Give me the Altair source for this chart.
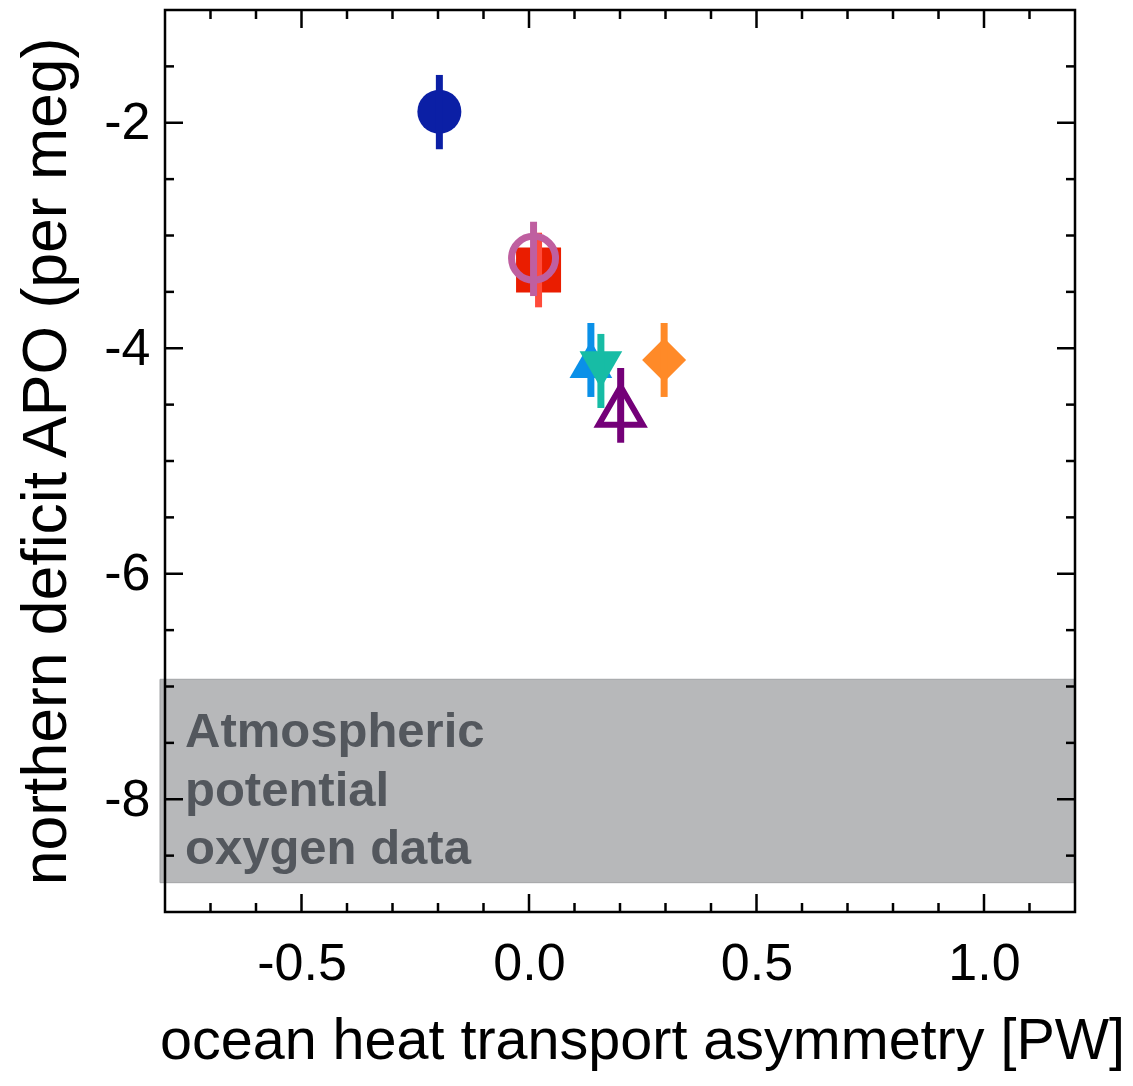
import altair as alt
import pandas as pd

# ---------------- data ----------------
series_names = ["model 1", "model 2", "model 3", "model 4", "model 5", "model 6", "model 7"]
x_vals = [-0.197, 0.021, 0.010, 0.136, 0.158, 0.2015, 0.297]
y_vals = [-1.902, -3.306, -3.202, -4.100, -4.190, -4.510, -4.104]
y_low = [-2.235, -3.637, -3.537, -4.432, -4.530, -4.838, -4.432]
y_high = [-1.576, -2.975, -2.878, -3.776, -3.873, -4.175, -3.776]

band_low = [-8.74]
band_high = [-6.936]
band_text = ["Atmospheric\npotential\noxygen data"]

x_major = [-0.5, 0.0, 0.5, 1.0]
x_minor = [-0.7, -0.6, -0.4, -0.3, -0.2, -0.1, 0.1, 0.2, 0.3, 0.4, 0.6, 0.7, 0.8, 0.9, 1.1]
y_major = [-2, -4, -6, -8]
y_minor = [-1.5, -2.5, -3, -3.5, -4.5, -5, -5.5, -6.5, -7, -7.5, -8.5]

x_title = "ocean heat transport asymmetry [PW]"
y_title = "northern deficit APO (per meg)"

# ---------------- styles ----------------
shapes = ["circle", "square", "circle", "triangle-up", "triangle-down", "triangle-up", "diamond"]
filled = [True, True, False, True, True, False, True]
colors = ["#0b1fa5", "#ea1d00", "#bf5fa0", "#0a90e8", "#17bca5", "#740078", "#ff8a28"]
bar_colors = ["#0b1fa5", "#ff4b3a", "#bf5fa0", "#0a90e8", "#17bca5", "#740078", "#ff8a28"]
sizes = [1936, 2025, 1936, 1823, 1823, 1936, 1936]
stroke_widths = [0, 0, 7, 0, 0, 6, 0]

W, H = 910, 902
FONT = "Liberation Sans"
MAJ, MIN = 18, 9

df = pd.DataFrame({"name": series_names, "x": x_vals, "y": y_vals,
                   "lo": y_low, "hi": y_high})

xs = alt.Scale(domain=[-0.8, 1.2], nice=False, zero=False)
ys = alt.Scale(domain=[-9, -1], nice=False, zero=False)

lab_expr = "(datum.value < 0 ? '-' : '') + format(abs(datum.value), '{}')"

# band
band = alt.Chart(pd.DataFrame({"lo": band_low, "hi": band_high})).mark_rect(
    color="#b7b8ba", stroke="#a3a4a6", strokeWidth=1
).encode(
    x=alt.value(-5), x2=alt.value(W),
    y=alt.Y("hi:Q", scale=ys, axis=alt.Axis(
        title=y_title, values=y_major, ticks=False, domain=False, grid=False,
        labelExpr=lab_expr.format("d"), labelFontSize=52, labelFont=FONT,
        labelColor="black", labelPadding=15, titleFont=FONT, titleFontSize=62.5,
        titleFontWeight="normal", titleColor="black", titlePadding=25)),
    y2="lo:Q",
)

text = alt.Chart(pd.DataFrame({"t": band_text})).mark_text(
    align="left", baseline="alphabetic", font=FONT, fontSize=49, fontWeight="bold",
    color="#53575d", lineBreak="\n", lineHeight=58.5
).encode(x=alt.value(20), y=alt.value(737), text="t:N")

layers = [band, text]

for i in range(len(series_names)):
    d = df[df["name"] == series_names[i]]
    base = alt.Chart(d)
    kw = dict(shape=shapes[i], size=sizes[i], filled=filled[i], opacity=1)
    if filled[i]:
        kw.update(fill=colors[i], strokeWidth=0)
    else:
        kw.update(stroke=colors[i], strokeWidth=stroke_widths[i], fill=None, fillOpacity=0)
    pt = base.mark_point(**kw).encode(
        x=alt.X("x:Q", scale=xs, axis=alt.Axis(
            title=x_title, values=x_major, ticks=False, domain=False, grid=False,
            labelExpr=lab_expr.format(".1f"), labelFontSize=52, labelFont=FONT,
            labelColor="black", labelPadding=26, titleFont=FONT, titleFontSize=57.5,
            titleFontWeight="normal", titleColor="black", titlePadding=24,
            titleX=W / 2 + 22, titleAlign="center")),
        y=alt.Y("y:Q", scale=ys),
    )
    bar = base.mark_rule(color=bar_colors[i], strokeWidth=7).encode(
        x=alt.X("x:Q", scale=xs), y=alt.Y("lo:Q", scale=ys), y2="hi:Q")
    layers += [pt, bar]

# inward ticks
def xticks(vals, length):
    d = pd.DataFrame({"v": vals})
    b = alt.Chart(d).mark_rule(color="black", strokeWidth=2.5).encode(
        x=alt.X("v:Q", scale=xs), y=alt.value(H), y2=alt.value(H - length))
    t = alt.Chart(d).mark_rule(color="black", strokeWidth=2.5).encode(
        x=alt.X("v:Q", scale=xs), y=alt.value(0), y2=alt.value(length))
    return [b, t]

def yticks(vals, length):
    d = pd.DataFrame({"v": vals})
    l = alt.Chart(d).mark_rule(color="black", strokeWidth=2.5).encode(
        y=alt.Y("v:Q", scale=ys), x=alt.value(0), x2=alt.value(length))
    r = alt.Chart(d).mark_rule(color="black", strokeWidth=2.5).encode(
        y=alt.Y("v:Q", scale=ys), x=alt.value(W), x2=alt.value(W - length))
    return [l, r]

layers += xticks(x_major, MAJ) + xticks(x_minor, MIN)
layers += yticks(y_major, MAJ) + yticks(y_minor, MIN)

frame = alt.Chart(pd.DataFrame({"a": [0]})).mark_rect(
    filled=False, fill=None, stroke="black", strokeWidth=2.5
).encode(x=alt.value(0), x2=alt.value(W), y=alt.value(0), y2=alt.value(H))
layers.append(frame)

chart = alt.layer(*layers).properties(
    width=W, height=H,
    autosize=alt.AutoSizeParams(type="none"),
    padding={"left": 157, "top": 2, "right": 50, "bottom": 166},
).configure_view(stroke=None).configure(background="white")

chart.save("out.html", embed_options={"renderer": "svg", "actions": False})
